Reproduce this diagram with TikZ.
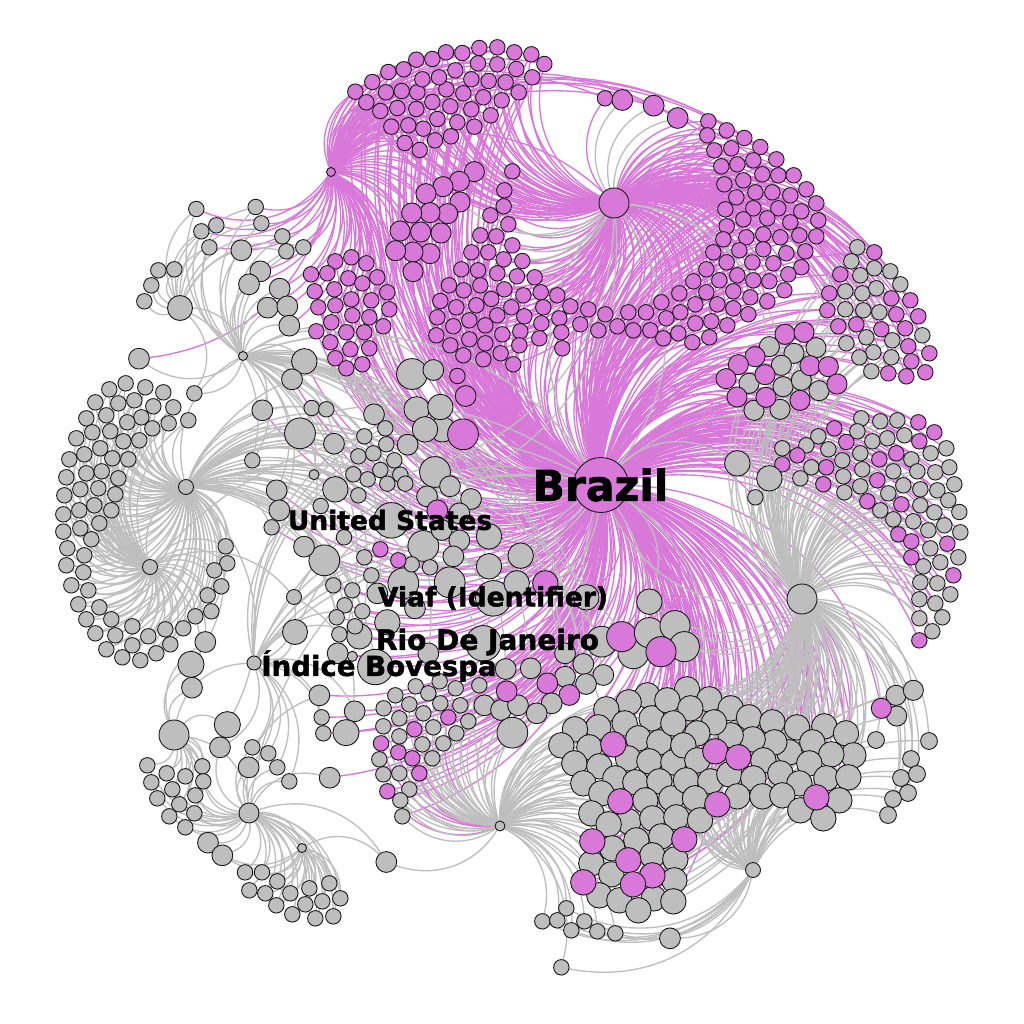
\documentclass[tikz,border=0pt]{standalone}
\usepackage{fontspec}
\newfontfamily\labfont[FakeBold=1.6]{DejaVu Sans Bold}
\definecolor{pe}{HTML}{D878D8}
\definecolor{ge}{HTML}{BEBEBE}
\definecolor{pk}{HTML}{D878D8}
\definecolor{gy}{HTML}{BEBEBE}
\pgfdeclarelayer{bgw}
\pgfdeclarelayer{pe}
\pgfdeclarelayer{ge}
\pgfsetlayers{bgw,pe,ge,main}
\tikzset{
  nd/.style={circle,draw=black!90,line width=0.9pt,inner sep=0pt,outer sep=0pt},
  lnk/.style={line width=1.35pt},
  lab/.style={font=\labfont\fontsize{26.5}{27}\selectfont,text=black,inner sep=0pt},
}
\def\listpe{A/B,A/rt2,A/rt4,A/rt7,A/rt11,A/te1,A/te2,A/rt15,A/tc1}
\def\listge{K/brazil,I/brazil,H/brazil,E/brazil,D/brazil,C/brazil,B/brazil,brazil/B,F/brazil,N/brazil,L/brazil,P/brazil,J/K,H/I,M/F,F/G,M/L,N/L,P/L,I/K,H/N,B/tf4,B/tf8,B/tf10,B/tf14,B/tb5,B/rc4,B/rc1,B/mf12,B/me6,brazil/mk1,brazil/mb2,brazil/bb5,brazil/ba9,brazil/mc4,brazil/rg1,brazil/re12,brazil/me11,brazil/md2,K/brazil,I/mc3,K/mc1}
% name, fill, ox, oy, scale, radius(crop units), hubs, list
\newcommand\nset[8]{%
  \foreach \x/\y [count=\i] in {#8}{%
    \node[nd,fill=#2,minimum size={(2*#6/#5+0.8)*1pt}] (#1\i) at ({#3+\x/#5},{-(#4+\y/#5)}) {};
    \foreach \hh/\cc in {#7}{%
      \expandafter\xdef\csname list\cc\endcsname{\csname list\cc\endcsname,\hh/#1\i}%
    }%
  }%
}
\begin{document}
\begin{tikzpicture}[x=1pt,y=1pt]
\begin{pgfonlayer}{bgw}
\fill[white] (0,0) rectangle (1024,-1024);
\end{pgfonlayer}
\useasboundingbox (0,0) rectangle (1024,-1024);
% hubs
\node[nd,fill=pk,minimum size=55pt] (brazil) at (601,-485) {};
\node[nd,fill=pk,minimum size=30pt] (B) at (614,-203) {};
\node[nd,fill=pk,minimum size=9pt] (A) at (331,-172) {};
\node[nd,fill=gy,minimum size=30pt] (C) at (802,-599) {};
\node[nd,fill=gy,minimum size=15pt] (D) at (753,-870) {};
\node[nd,fill=gy,minimum size=10pt] (E) at (500,-826) {};
\node[nd,fill=gy,minimum size=20pt] (F) at (249,-813) {};
\node[nd,fill=gy,minimum size=9pt] (G) at (302,-848) {};
\node[nd,fill=gy,minimum size=15pt] (H) at (150,-567) {};
\node[nd,fill=gy,minimum size=15pt] (I) at (186,-487) {};
\node[nd,fill=gy,minimum size=25pt] (J) at (180,-308) {};
\node[nd,fill=gy,minimum size=9pt] (K) at (243,-356) {};
\node[nd,fill=gy,minimum size=30pt] (M) at (174,-735) {};
\node[nd,fill=gy,minimum size=14pt] (L) at (254,-663) {};
\node[nd,fill=gy,minimum size=15pt] (N) at (294,-597) {};
\node[nd,fill=gy,minimum size=25pt] (P) at (295,-632) {};
% top-left pink cluster
\nset{ta}{pk}{300}{30}{3}{22}{A/pe,B/pe,brazil/pe}{166/185,217/156,265/126,311/118,349/89,397/87,438/67,487/69,538/54,592/52,643/67,694/73,733/102,697/142,656/187,605/211,572/256,523/290,453/319,405/331,359/360,314/339,274/290,325/286,370/296,412/267,472/277,514/238,550/202,490/190,439/178,397/216,451/229,349/237,292/234,241/243,199/217,258/187,305/183,352/187,367/148,417/142,466/121,514/148,534/100,592/103,649/117,617/157,566/153}
% big pink cluster
\nset{tb}{pk}{300}{30}{3}{29}{A/pe,brazil/pe}{523/425,478/454,429/470,378/491,480/516,443/551,390/548,335/549,423/609,362/606,300/603,390/671,339/666,287/662,339/725}
% near B
\nset{tc}{pk}{300}{30}{3}{22}{B/pe}{915/205}
\nset{td}{pk}{300}{30}{3}{30}{B/ge}{967/210}
\nset{te}{pk}{640}{90}{3}{30}{B/ge}{41/47,113/84}
% central pink
\nset{tf}{pk}{300}{30}{3}{22}{brazil/pe,B/pe}{637/424,613/481,611/529,571/556,625/583,541/616,589/619,637/646,514/667,565/667,611/688,667/693,484/718,534/721,592/730,651/739,704/742,447/766,491/781,541/766,613/778,670/796,722/787,772/796,421/813,469/832,529/826,574/807,634/832,673/859,730/832,811/829,865/838,916/853,985/847,412/862,460/889,508/871,556/886,592/856,724/880,778/865,841/883,895/901,952/889,1000/901,409/916,451/946,508/928,556/940,607/913,661/904,718/925,784/907,658/946,602/970,787/955,490/976,550/988,640/1003}
% left pink
\nset{tg}{pk}{300}{30}{3}{22}{A/pe,brazil/pe}{106/694,154/682,199/700,33/733,82/730,145/745,187/760,232/742,44/784,103/778,154/808,214/811,262/787,55/832,106/826,157/856,208/862,268/838,94/877,139/907,193/907,250/889,49/904,91/937,151/958,208/955,106/985,139/1015,187/1003}
% right-top pink
\nset{rt}{pk}{640}{90}{3}{22}{brazil/pe,B/pe}{205/94,202/136,260/121,313/144,223/181,274/175,361/171,244/229,292/223,340/211,409/208,253/283,310/271,367/253,415/256,461/256,499/298,289/322,346/307,397/307,451/316,529/340,256/358,340/355,415/355,484/364,535/391,310/388,382/385,451/397,260/409,319/442,370/433,421/442,478/436,529/439,250/448,298/481,370/478,439/490,496/484,220/487,260/517,337/517,400/520,484/532,199/538,292/556,238/571,340/571,388/574,445/553,160/574,199/607,280/604,331/622,382/634,433/601,118/610,166/643,232/643,280/655,325/673,64/637,121/667,18/667,79/685,166/700,214/694,262/706,31/721,70/745,115/730,157/757,208/742}
% right mixed
\nset{ra}{gy}{640}{90}{3}{22}{C/ge,B/pe}{652/472,634/514,661/556,703/535,751/544,781/583,616/604,667/610,709/595,616/658,670/661,718/667,679/742,757/751,619/760,700/787,658/802,754/802,694/844,847/736}
\nset{rb}{pk}{640}{90}{3}{22}{B/pe,brazil/pe}{703/487,601/553,568/610,754/625,811/631,562/661,769/673,835/679,595/709,649/703,724/718,796/715,805/769,868/790,814/814,745/850,799/859,856/847}
% right big mixed
\nset{rc}{gy}{640}{90}{3}{29}{C/ge,brazil/pe}{388/770,462/790,528/773,424/826,327/880,429/890,484/871,537/902,342/961,420/958}
\nset{rd}{pk}{640}{90}{3}{29}{brazil/pe}{435/733,492/727,345/800,295/824,258/866,375/854,510/827,565/830,591/882,291/921,378/922,480/931}
% right lower
\nset{re}{gy}{640}{400}{3}{22}{C/ge,brazil/pe}{664/55,721/64,772/61,652/94,535/109,697/124,742/115,793/106,499/136,427/145,565/148,661/160,607/181,814/178,872/160,919/145,514/202,667/208,760/214,832/214,886/217,928/202,481/235,610/229,661/259,790/256,841/268,892/271,943/253,613/277,745/280,721/331,841/316,883/337,925/301,958/336,760/358,820/364,865/391,913/376,961/397,871/445,901/487,955/472,850/499,841/547,892/550,931/583,838/598,886/610,838/655,907/652,877/694,346/292}
\nset{rf}{pk}{640}{400}{3}{22}{brazil/pe}{835/67,883/97,583/85,619/126,838/124,472/166,769/160,718/178,427/193,559/202,712/241,550/253,682/304,784/313,775/403,814/424,922/431,814/472,940/526,838/721}
\nset{rg}{gy}{640}{400}{3}{37}{C/ge,brazil/pe}{292/190,388/235}
\nset{rh}{gy}{640}{400}{3}{29}{C/ge,D/ge}{768/886,820/871,770/948}
\nset{ri}{pk}{640}{400}{3}{29}{brazil/pe}{724/925}
\nset{rj}{gy}{0}{0}{1}{8}{C/ge,D/ge}{876/740,929/741,911/759,901/778,917/774,908/793,893/799,888/815}
% middle grey
\nset{ma}{gy}{300}{360}{3}{14}{brazil/pe,K/ge}{42/344,157/889}
\nset{mb}{gy}{300}{360}{3}{52}{brazil/pe,I/ge}{274/481,580/715,550/850,226/921}
\nset{mc}{gy}{300}{360}{3}{45}{brazil/pe,I/ge}{336/42,0/220,405/336,370/558,73/601,310/670,449/667,905/845,1000/880}
\nset{md}{gy}{300}{360}{3}{37}{brazil/pe,L/ge}{350/148,427/208,421/141,375/208,106/388,567/529,662/587,567/619,650/670,262/787,859/712,178/829}
\nset{me}{gy}{300}{360}{3}{30}{brazil/pe,K/ge}{400/30,222/163,102/251,323/254,450/379,381/409,513/417,478/460,425/510,478/541,12/560,460/589,232/700,345/745,113/880,385/880,795/880,850/912,795/950,910/945,858/972,692/925,617/927}
\nset{mf}{gy}{300}{360}{3}{22}{brazil/pe,I/ge}{35/144,79/148,256/205,193/229,259/253,175/289,220/280,283/301,160/343,241/330,203/358,301/344,262/371,316/371,175/406,62/438,132/532,193/592,335/613,390/622,214/646,100/676,157/691,134/736,187/754,110/772,165/799,118/823}
\nset{mg}{pk}{300}{360}{3}{22}{brazil/pe}{472/48,241/568,295/601}
\nset{mh}{pk}{300}{360}{3}{30}{brazil/pe}{497/108,412/451,742/970,808/1005}
\nset{mi}{pk}{300}{360}{3}{45}{brazil/pe}{489/223}
\nset{mj}{pk}{300}{360}{3}{37}{brazil/pe}{736/670}
\nset{mk}{gy}{640}{400}{3}{37}{brazil/pe,C/ge}{28/605}
\nset{ml}{pk}{300}{360}{3}{44}{brazil/pe}{965/830}
\nset{mm}{gy}{640}{400}{3}{44}{brazil/pe,C/ge}{28/698,105/677,133/740}
\nset{mn}{pk}{640}{400}{3}{44}{brazil/pe}{63/755}
% lower middle cluster
\nset{la}{gy}{230}{660}{3}{22}{E/ge,brazil/pe}{461/145,496/106,557/79,629/64,677/85,748/76,538/133,595/100,631/130,691/136,508/175,580/160,460/199,610/202,715/184,508/229,679/220,577/253,640/250,448/298,607/295,460/343,508/340,538/388,511/421,517/469}
\nset{lb}{pk}{230}{660}{3}{22}{E/pe,brazil/pe}{453/250,553/208,655/172,505/277,547/295,568/340,472/394}
\nset{lc}{gy}{230}{660}{3}{30}{E/ge,brazil/pe}{763/136,813/150,864/136}
\nset{ld}{pk}{230}{660}{3}{30}{brazil/pe}{830/94}
\nset{le}{gy}{230}{660}{3}{45}{E/ge}{847/218}
\nset{lf}{gy}{530}{650}{3}{30}{E/ge,brazil/pe}{65/160,20/190}
% bottom dense cluster
\nset{ba}{gy}{530}{650}{3}{37}{E/ge,C/ge,brazil/pe}{352/136,296/157,229/178,365/205,284/220,205/232,135/238,94/286,178/292,325/265,388/277,133/340,208/349,294/325,358/334,430/337,160/400,256/385,316/397,388/394,214/430,346/451,424/445,184/490,295/514,236/523,367/505,439/502,394/559,319/571,247/595,184/640,367/616,436/628,244/673,433/691,208/736,268/751,371/745,430/754,325/781}
\nset{bb}{gy}{530}{650}{3}{37}{C/ge,D/ge,brazil/pe}{471/118,538/148,602/175,412/151,481/175,657/202,727/217,801/232,883/229,948/250,847/277,970/316,904/313,778/307,733/277,668/268,602/256,552/217,502/250,430/220,460/286,502/331,700/331,838/340,468/391,541/394,598/373,670/385,751/370,889/385,955/382,808/400,495/445,622/439,697/439,757/436,510/511,811/481,928/451,880/505}
\nset{bc}{pk}{530}{650}{3}{37}{C/pe,brazil/pe}{250/283,556/304,625/322,271/454,562/463,859/442,463/568,187/574,295/631,367/676,160/697,309/703}
\nset{bd}{gy}{530}{650}{3}{22}{E/ge,D/ge}{109/775,37/814,82/811,163/814,124/841,202/844,256/850,94/952}
\nset{be}{gy}{530}{650}{3}{30}{D/ge}{420/865}
% hub I cluster
\nset{ia}{gy}{40}{190}{3}{22}{I/ge,H/ge}{257/580,208/598,316/592,370/607,166/637,235/640,283/631,340/649,400/652,139/685,199/676,304/682,262/697,445/691,386/700,337/715,211/724,157/727,109/745,250/754,298/751,181/775,88/808,133/793,217/805,265/808,79/862,139/850,185/844,235/865,121/898,175/895,73/916,226/913,163/946,118/961,214/961,70/973,178/1000,121/1015,70/1025}
\nset{ib}{gy}{40}{190}{3}{22}{K/ge,J/ge}{463/610,637/811}
% top-left grey
\nset{ja}{gy}{40}{190}{3}{22}{J/ge,K/ge,A/pe}{469/57,647/51,529/106,664/100,484/124,727/139,508/172,790/172,739/184}
\nset{jb}{gy}{40}{190}{3}{22}{J/ge}{355/241,403/238,334/286,313/334}
\nset{jc}{gy}{40}{190}{3}{30}{K/ge,A/pe}{604/181,661/244,627/283,719/296,683/353,742/349,748/407,297/506}
\nset{jd}{gy}{40}{190}{3}{37}{K/ge,brazil/pe}{793/514}
\nset{je}{gy}{40}{190}{3}{30}{K/ge,brazil/pe}{756/568,667/661,710/901,718/961}
\nset{jf}{gy}{40}{190}{3}{22}{I/ge,brazil/pe}{695/1012}
% hub H lower
\nset{ha}{gy}{40}{530}{3}{22}{H/ge,I/ge}{154/28,82/55,133/76,79/106,130/127,94/166,145/181,115/223,178/232,139/268,214/268,277/289,166/310,226/316,325/319,376/298,430/295,277/346,391/343,199/358,247/382,301/391,349/370}
\nset{hb}{gy}{40}{530}{3}{22}{H/ge,I/ge}{557/49,562/100,523/121,544/169,503/196,514/244,466/259}
\nset{hc}{gy}{40}{530}{3}{30}{H/ge,M/ge}{496/336,456/473}
\nset{hd}{gy}{40}{530}{3}{38}{I/ge,M/ge}{453/403,562/584}
\nset{he}{gy}{40}{530}{3}{30}{F/ge,L/ge}{540/652}
\nset{hf}{gy}{40}{530}{3}{22}{M/ge,F/ge}{322/706,380/730,436/739,487/709,334/757,490/754,397/778,466/796,352/805,418/823,463/850,388/859,436/892}
\nset{hg}{gy}{40}{530}{3}{30}{F/ge,G/ge}{504/938,547/976}
\nset{hh}{gy}{40}{530}{3}{22}{F/ge,L/ge}{637/652,685/670,712/712,748/754}
\nset{hi}{gy}{40}{530}{3}{30}{F/ge,L/ge}{626/712}
% lower left
\nset{ga}{gy}{230}{660}{3}{22}{G/ge,F/ge}{45/637,96/637,142/664,58/691,106/700,181/700,238/685,298/670,139/736,226/733,277/724,331/715,187/763,256/775,310/769}
\nset{gb}{gy}{230}{660}{3}{30}{F/ge,G/ge,E/ge}{469/606}
\nset{gc}{gy}{230}{660}{3}{30}{F/ge,brazil/pe}{299/353,268/106}
\nset{gd}{gy}{230}{660}{3}{30}{L/ge,brazil/pe}{374/154}
\nset{gee}{gy}{230}{660}{3}{38}{N/ge,brazil/pe}{348/218}
\nset{gf}{gy}{230}{660}{3}{22}{L/ge,brazil/pe}{275/172,280/220}
% connectors
\begin{pgfonlayer}{pe}
\foreach \a/\b in \listpe {\draw[lnk,color=pe] (\a) to[bend left=38] (\b);}
\end{pgfonlayer}
\begin{pgfonlayer}{ge}
\foreach \a/\b in \listge {\draw[lnk,color=ge] (\a) to[bend left=38] (\b);}
\end{pgfonlayer}
% labels
\node[lab,font=\labfont\fontsize{42.5}{44}\selectfont] (lbr) at (600.5,-485) {Brazil};
\node[lab] (lus) at (390,-520) {United States};
\node[lab] (lvi) at (493,-598) {Viaf (Identifier)};
\node[lab,font=\labfont\fontsize{28}{29}\selectfont] (lri) at (487.5,-642) {Rio De Janeiro};
\node[lab,font=\labfont\fontsize{27.6}{29}\selectfont] (lin) at (379,-666) {Índice Bovespa};
\end{tikzpicture}
\end{document}
